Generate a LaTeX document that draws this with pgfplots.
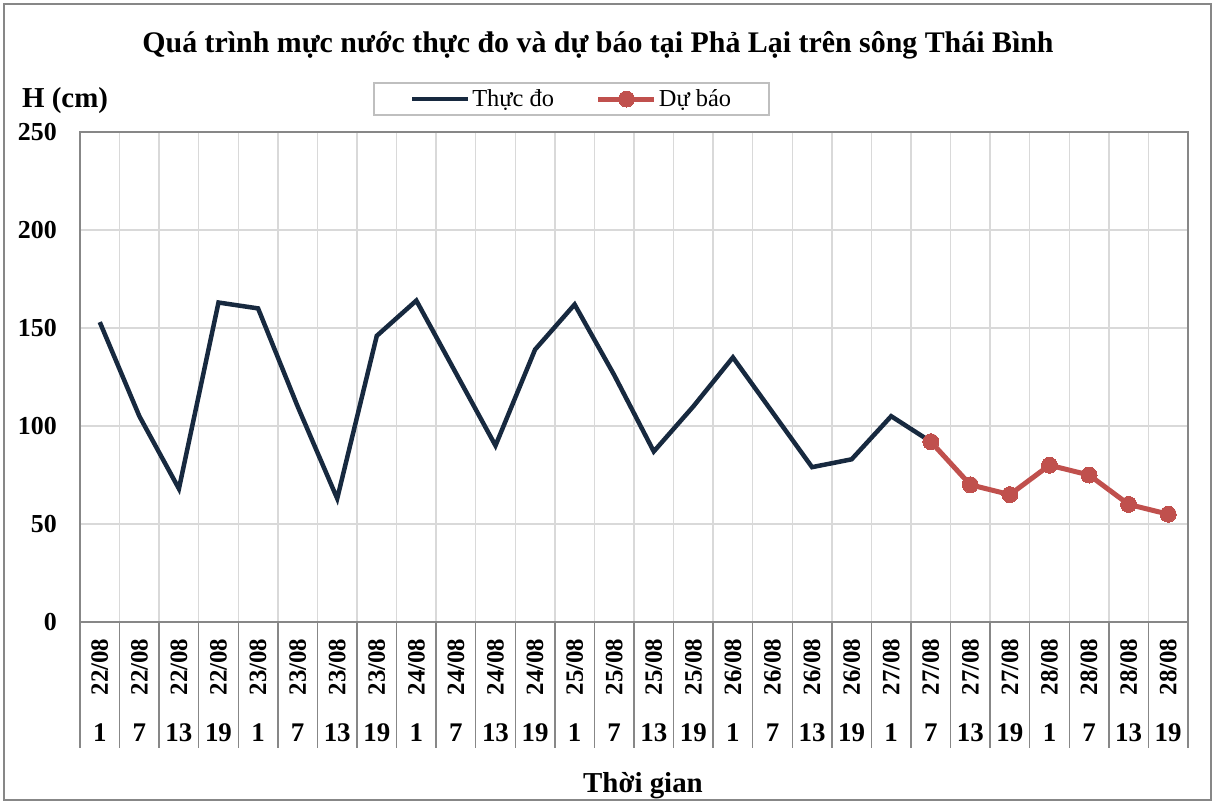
\documentclass[border=0pt]{standalone}
\usepackage{pgfplots}
\pgfplotsset{compat=1.18}
\usepackage{fontspec}
\setmainfont{Liberation Serif}
\definecolor{navy}{HTML}{17293F}
\definecolor{fred}{HTML}{C0504D}
\definecolor{gridc}{HTML}{D9D9D9}
\definecolor{axc}{HTML}{878787}
\definecolor{legc}{HTML}{BFBFBF}
\newcommand{\dl}[1]{\rotatebox{90}{#1}}
\begin{document}
\begin{tikzpicture}
\useasboundingbox (-80bp,-181bp) rectangle (1137bp,622bp);
\draw[axc, line width=1.5bp] (-76bp,-178bp) rectangle (1131bp,618bp);
\begin{axis}[
 anchor=south west, at={(0,0)},
 scale only axis, width=1108bp, height=490bp,
 xmin=-0.5, xmax=27.5, ymin=0, ymax=250,
 ytick={0,50,...,250},
 xtick={0,...,27},
 xticklabels={\dl{22/08},\dl{22/08},\dl{22/08},\dl{22/08},\dl{23/08},\dl{23/08},\dl{23/08},\dl{23/08},\dl{24/08},\dl{24/08},\dl{24/08},\dl{24/08},\dl{25/08},\dl{25/08},\dl{25/08},\dl{25/08},\dl{26/08},\dl{26/08},\dl{26/08},\dl{26/08},\dl{27/08},\dl{27/08},\dl{27/08},\dl{27/08},\dl{28/08},\dl{28/08},\dl{28/08},\dl{28/08}},
 major tick length=0pt, minor tick length=0pt,
 minor xtick={-0.5,0.5,...,27.5},
 xminorgrids=true, ymajorgrids=true, xmajorgrids=false,
 grid style={gridc, line width=1.5bp},
 minor grid style={gridc, line width=1.5bp},
 axis line style={axc, line width=1.5bp},
 clip=false,
 /pgf/number format/assume math mode=true,
 yticklabel style={font=\bfseries\fontsize{26}{30}\selectfont, anchor=east, inner sep=0pt, xshift=-23bp},
 xticklabel style={font=\bfseries\fontsize{25}{30}\selectfont, anchor=center, inner sep=0pt, yshift=-45bp},
 extra x ticks={0,...,27},
 extra x tick labels={1,7,13,19,1,7,13,19,1,7,13,19,1,7,13,19,1,7,13,19,1,7,13,19,1,7,13,19},
 extra x tick style={grid=none, xticklabel style={yshift=-66bp, font=\bfseries\fontsize{27}{30}\selectfont}},
 legend columns=2,
 legend style={at={(0.4436,1.0673)}, anchor=center, draw=legc, line width=1.5bp,
   font=\fontsize{24.5}{28}\selectfont, inner xsep=36bp, inner ysep=5bp,
   nodes={inner sep=2bp},
   /tikz/every even column/.append style={column sep=40bp}},
 legend image code/.code={\draw[#1, mark repeat=2, mark phase=2] plot coordinates {(0bp,0bp) (28bp,0bp) (56bp,0bp)};},
]
\addplot[navy, line width=4.5bp, no markers] coordinates {
(0,153) (1,105) (2,68) (3,163) (4,160) (5,110) (6,63) (7,146) (8,164) (9,127)
(10,90) (11,139) (12,162) (13,126) (14,87) (15,110) (16,135) (17,107) (18,79) (19,83)
(20,105) (21,92)};
\addlegendentry{Thực đo}
\addplot[fred, line width=5bp, mark=*, mark size=8bp, mark options={fill=fred, draw=fred, line width=0pt}] coordinates {
(21,92) (22,70) (23,65) (24,80) (25,75) (26,60) (27,55)};
\addlegendentry{Dự báo}
\end{axis}
\foreach \i in {0,...,28} \draw[axc, line width=1.5bp] (\i*39.5714bp,0bp) -- ++(0bp,-126bp);
\node[anchor=base, font=\bfseries\fontsize{30}{34}\selectfont] at (518bp,569bp) {Quá trình mực nước thực đo và dự báo tại Phả Lại trên sông Thái Bình};
\node[anchor=base west, inner sep=0pt, font=\bfseries\fontsize{29}{32}\selectfont] at (-58bp,514bp) {H (cm)};
\node[anchor=base, inner sep=0pt, font=\bfseries\fontsize{29}{32}\selectfont] at (563bp,-170bp) {Thời gian};
\end{tikzpicture}
\end{document}
